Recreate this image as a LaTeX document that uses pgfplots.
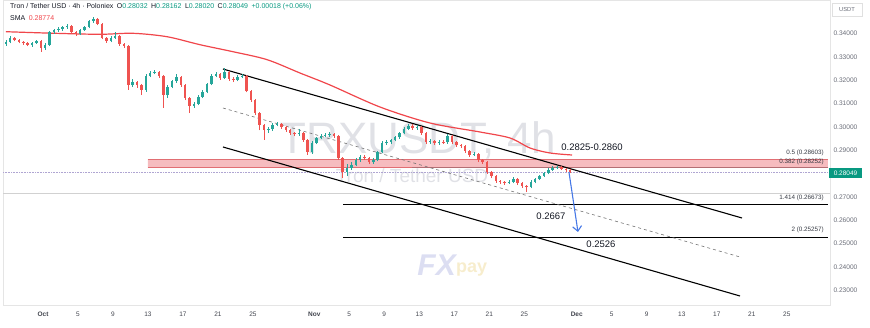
\documentclass[border=0pt]{standalone}
\usepackage{fontspec}
\setmainfont{Liberation Sans}
\usepackage{pgfplots}
\pgfplotsset{compat=1.18}
\usepackage{pgfplotstable}
\usetikzlibrary{arrows.meta}

\definecolor{upc}{RGB}{38,166,154}
\definecolor{dnc}{RGB}{239,83,80}
\definecolor{hdrgreen}{RGB}{8,153,129}
\definecolor{smac}{RGB}{240,70,75}
\definecolor{zonef}{RGB}{246,188,191}
\definecolor{zoned}{RGB}{225,110,115}
\definecolor{txt}{RGB}{19,23,34}
\definecolor{lbl}{RGB}{106,109,120}
\definecolor{wm}{RGB}{224,225,230}
\definecolor{arrowc}{RGB}{70,120,230}
\definecolor{fxc}{RGB}{220,222,242}
\definecolor{payc}{RGB}{247,237,205}

\pgfplotstableread{
t o h l c
-4.25 0.3355 0.3372 0.3348 0.3364
-3.75 0.3364 0.3388 0.3358 0.3381
-3.25 0.3381 0.3386 0.3366 0.3372
-2.75 0.3372 0.3378 0.3358 0.3364
-2.25 0.3364 0.3369 0.3352 0.3359
-1.75 0.3359 0.3363 0.3345 0.3351
-1.25 0.3351 0.3365 0.3344 0.3359
-0.75 0.3359 0.3374 0.3354 0.3368
-0.25 0.3368 0.3372 0.3321 0.3338
0.25 0.3338 0.3358 0.3330 0.3351
0.75 0.3351 0.3412 0.3346 0.3406
1.25 0.3406 0.3421 0.3398 0.3415
1.75 0.3415 0.3428 0.3408 0.3419
2.25 0.3419 0.3434 0.3412 0.3428
2.75 0.3428 0.3442 0.3421 0.3432
3.25 0.3432 0.3438 0.3398 0.3406
3.75 0.3406 0.3410 0.3390 0.3398
4.25 0.3398 0.3420 0.3393 0.3415
4.75 0.3415 0.3434 0.3410 0.3428
5.25 0.3428 0.3460 0.3422 0.3454
5.75 0.3454 0.3471 0.3447 0.3462
6.25 0.3462 0.3466 0.3435 0.3441
6.75 0.3441 0.3445 0.3375 0.3381
7.25 0.3381 0.3386 0.3360 0.3368
7.75 0.3368 0.3388 0.3362 0.3381
8.25 0.3381 0.3405 0.3376 0.3389
8.75 0.3389 0.3394 0.3348 0.3355
9.25 0.3355 0.3360 0.3338 0.3346
9.75 0.3346 0.3352 0.3160 0.3179
10.25 0.3179 0.3205 0.3170 0.3192
10.75 0.3192 0.3198 0.3168 0.3179
11.25 0.3179 0.3185 0.3136 0.3158
11.75 0.3158 0.3225 0.3150 0.3218
12.25 0.3218 0.3240 0.3212 0.3231
12.75 0.3231 0.3245 0.3225 0.3235
13.25 0.3235 0.3240 0.3210 0.3218
13.75 0.3218 0.3222 0.3081 0.3136
14.25 0.3136 0.3178 0.3125 0.3171
14.75 0.3171 0.3202 0.3165 0.3196
15.25 0.3196 0.3228 0.3190 0.3214
15.75 0.3214 0.3220 0.3172 0.3179
16.25 0.3179 0.3184 0.3115 0.3124
16.75 0.3124 0.3130 0.3059 0.3089
17.25 0.3089 0.3106 0.3082 0.3098
17.75 0.3098 0.3135 0.3092 0.3128
18.25 0.3128 0.3156 0.3122 0.3149
18.75 0.3149 0.3190 0.3143 0.3184
19.25 0.3184 0.3225 0.3178 0.3218
19.75 0.3218 0.3236 0.3212 0.3226
20.25 0.3226 0.3232 0.3202 0.3209
20.75 0.3209 0.3254 0.3204 0.3235
21.25 0.3235 0.3240 0.3198 0.3205
21.75 0.3205 0.3212 0.3192 0.3201
22.25 0.3201 0.3222 0.3195 0.3214
22.75 0.3214 0.3228 0.3208 0.3218
23.25 0.3218 0.3222 0.3148 0.3154
23.75 0.3154 0.3160 0.3108 0.3115
24.25 0.3115 0.3120 0.3050 0.3059
24.75 0.3059 0.3065 0.2985 0.3008
25.25 0.3008 0.3014 0.2944 0.2986
25.75 0.2986 0.3000 0.2975 0.2991
26.25 0.2991 0.3018 0.2984 0.3008
26.75 0.3008 0.3021 0.3002 0.3012
27.25 0.3012 0.3016 0.2992 0.2999
27.75 0.2999 0.3004 0.2978 0.2986
28.25 0.2986 0.2992 0.2966 0.2974
28.75 0.2974 0.2980 0.2960 0.2969
29.25 0.2969 0.2990 0.2962 0.2974
29.75 0.2974 0.2978 0.2936 0.2944
30.25 0.2944 0.2948 0.2880 0.2892
30.75 0.2892 0.2938 0.2885 0.2931
31.25 0.2931 0.2958 0.2925 0.2952
31.75 0.2952 0.2968 0.2946 0.2961
32.25 0.2961 0.2972 0.2955 0.2965
32.75 0.2965 0.2976 0.2958 0.2969
33.25 0.2969 0.2975 0.2954 0.2961
33.75 0.2961 0.2966 0.2858 0.2866
34.25 0.2866 0.2872 0.2781 0.2806
34.75 0.2806 0.2842 0.2790 0.2824
35.25 0.2824 0.2848 0.2815 0.2836
35.75 0.2836 0.2866 0.2830 0.2858
36.25 0.2858 0.2880 0.2850 0.2871
36.75 0.2871 0.2878 0.2858 0.2866
37.25 0.2866 0.2870 0.2840 0.2849
37.75 0.2849 0.2865 0.2842 0.2858
38.25 0.2858 0.2898 0.2852 0.2892
38.75 0.2892 0.2938 0.2886 0.2931
39.25 0.2931 0.2942 0.2924 0.2935
39.75 0.2935 0.2950 0.2928 0.2944
40.25 0.2944 0.2962 0.2938 0.2956
40.75 0.2956 0.2980 0.2950 0.2974
41.25 0.2974 0.2998 0.2968 0.2991
41.75 0.2991 0.3012 0.2985 0.3004
42.25 0.3004 0.3012 0.2988 0.2995
42.75 0.2995 0.3010 0.2988 0.2999
43.25 0.2999 0.3004 0.2966 0.2974
43.75 0.2974 0.2978 0.2928 0.2935
44.25 0.2935 0.2946 0.2926 0.2938
44.75 0.2938 0.2944 0.2922 0.2931
45.25 0.2931 0.2942 0.2924 0.2935
45.75 0.2935 0.2942 0.2926 0.2933
46.25 0.2933 0.2968 0.2928 0.2961
46.75 0.2961 0.2966 0.2928 0.2935
47.25 0.2935 0.2940 0.2914 0.2922
47.75 0.2922 0.2928 0.2910 0.2918
48.25 0.2918 0.2922 0.2888 0.2896
48.75 0.2896 0.2900 0.2872 0.2879
49.25 0.2879 0.2892 0.2874 0.2884
49.75 0.2884 0.2888 0.2850 0.2858
50.25 0.2858 0.2862 0.2840 0.2849
50.75 0.2849 0.2854 0.2798 0.2806
51.25 0.2806 0.2812 0.2780 0.2789
51.75 0.2789 0.2794 0.2760 0.2768
52.25 0.2768 0.2772 0.2756 0.2764
52.75 0.2764 0.2768 0.2752 0.2759
53.25 0.2759 0.2770 0.2754 0.2764
53.75 0.2764 0.2785 0.2758 0.2776
54.25 0.2776 0.2780 0.2752 0.2759
54.75 0.2759 0.2764 0.2738 0.2746
55.25 0.2746 0.2750 0.2721 0.2742
55.75 0.2742 0.2770 0.2736 0.2764
56.25 0.2764 0.2782 0.2758 0.2776
56.75 0.2776 0.2795 0.2770 0.2789
57.25 0.2789 0.2808 0.2784 0.2802
57.75 0.2802 0.2822 0.2796 0.2815
58.25 0.2815 0.2830 0.2810 0.2824
58.75 0.2824 0.2832 0.2818 0.2826
59.25 0.2826 0.2830 0.2814 0.2819
59.75 0.2819 0.2825 0.2808 0.2815
60.25 0.2815 0.2818 0.2802 0.2805
}\candles

\begin{document}
\begin{tikzpicture}[x=1pt,y=1pt]
% watermarks (drawn first, underneath)
\node[text=wm, font=\fontsize{44}{44}\selectfont] at (418,187) {TRXUSDT, 4h};
\node[text=wm, font=\fontsize{19}{19}\selectfont] at (412,151) {Tron / Tether USD};
\node[text=fxc, font=\fontsize{30}{30}\selectfont\bfseries\itshape, anchor=east, inner sep=0] at (456,62) {FX};
\node[text=payc, font=\fontsize{18}{18}\selectfont\bfseries, anchor=west, inner sep=0] at (456,57) {pay};

\begin{axis}[
  at={(3pt,22pt)}, anchor=south west, scale only axis,
  width=827pt, height=305pt,
  xmin=-4.571, xmax=89.943, ymin=0.22364, ymax=0.35436,
  clip=false,
  axis line style={draw=black!10},
  major tick length=0pt,
  scaled y ticks=false,
  yticklabel pos=right,
  ytick={0.23,0.24,0.25,0.26,0.27,0.29,0.30,0.31,0.32,0.33,0.34},
  /pgf/number format/.cd, fixed, fixed zerofill, precision=5, assume math mode=true,
  /pgfplots/.cd,
  yticklabel style={font=\fontsize{6.6}{7}\selectfont, text=lbl, anchor=west, xshift=0pt},
  xtick={0,4,8,12,16,20,24,31,35,39,43,47,51,55,61,65,69,73,77,81,85},
  xticklabels={\textbf{Oct},5,9,13,17,21,25,\textbf{Nov},5,9,13,17,21,25,\textbf{Dec},5,9,13,17,21,25},
  xticklabel style={font=\fontsize{6.5}{7}\selectfont, text=txt!80, yshift=-3pt},
  colormap={updown}{rgb255(0cm)=(239,83,80); rgb255(1cm)=(38,166,154)},
  point meta min=0, point meta max=1,
]
% horizontal guide lines
\addplot[color=black!18, line width=0.5pt] coordinates {(-4.571,0.27164) (89.943,0.27164)};
\addplot[color={rgb,255:red,175;green,165;blue,210}, densely dotted, line width=0.6pt] coordinates {(-4.571,0.28049) (89.943,0.28049)};
% red zone
\addplot[draw=none, fill=zonef] coordinates {(12,0.28252) (89.71,0.28252) (89.71,0.28603) (12,0.28603) (12,0.28252)};
\addplot[color=zoned, line width=0.6pt] coordinates {(12,0.28603) (89.71,0.28603)};
\addplot[color=zoned, line width=0.6pt] coordinates {(12,0.28252) (89.71,0.28252)};
\addplot[color={rgb,255:red,180;green,110;blue,115}, line width=0.8pt] coordinates {(42.17,0.28252) (89.71,0.28252)};
% fib extension lines
\addplot[color=black, line width=0.9pt] coordinates {(34.29,0.26673) (89.71,0.26673)};
\addplot[color=black, line width=0.9pt] coordinates {(34.29,0.25257) (89.71,0.25257)};
% SMA
\addplot[color=smac, line width=1.2pt, smooth] coordinates {
 (-4.23,0.34077) (1.37,0.34009) (6.51,0.33966) (10.29,0.34009) (14.17,0.33863)
 (17.94,0.33520) (21.71,0.33220) (25.6,0.32880) (29.37,0.32307) (32.8,0.31793)
 (38.51,0.30850) (44.23,0.30164) (49.94,0.29779) (53.37,0.29521) (55.66,0.29093)
 (57.94,0.28879) (60.46,0.28793)};
% channel
\addplot[color=black, line width=1.1pt] coordinates {(20.57,0.32479) (79.89,0.26093)};
\addplot[color=black, line width=1.1pt] coordinates {(20.57,0.29136) (79.66,0.22750)};
\addplot[color=black!55, dashed, line width=0.6pt] coordinates {(20.57,0.30807) (79.66,0.24421)};
% candles: wicks and bodies
\addplot[quiver={u=0, v=\thisrow{h}-\thisrow{l}, colored=mapped color}, line width=0.6pt,
  point meta={\thisrow{c}>\thisrow{o}}] table[x=t, y=l] {\candles};
\addplot[quiver={u=0, v=\thisrow{c}-\thisrow{o}, colored=mapped color}, line width=2.6pt,
  point meta={\thisrow{c}>\thisrow{o}}] table[x=t, y=o] {\candles};
% projection arrow
\addplot[color=arrowc, line width=1.1pt, -{Straight Barb[length=5pt,width=9pt]}] coordinates {(60.11,0.28064) (61.14,0.25493)};
\end{axis}

% header
\node[anchor=west, inner sep=0, font=\fontsize{7}{8}\selectfont, text=txt] at (10,320)
 {Tron / Tether USD · 4h · Poloniex\enspace O\textcolor{hdrgreen}{0.28032}\enspace H\textcolor{hdrgreen}{0.28162}\enspace L\textcolor{hdrgreen}{0.28020}\enspace C\textcolor{hdrgreen}{0.28049}\enspace \textcolor{hdrgreen}{+0.00018 (+0.06\%)}};
\node[anchor=west, inner sep=0, font=\fontsize{7}{8}\selectfont, text=txt] at (10,309)
 {SMA\enspace\textcolor{smac}{0.28774}};
% annotations
\node[font=\fontsize{9.5}{10}\selectfont, text=txt] at (592,180) {0.2825-0.2860};
\node[font=\fontsize{9.5}{10}\selectfont, text=txt] at (551,111) {0.2667};
\node[font=\fontsize{9.5}{10}\selectfont, text=txt] at (601,83) {0.2526};
\node[anchor=east, inner sep=0, font=\fontsize{6.3}{7}\selectfont, text=txt!85] at (824,174) {0.5 (0.28603)};
\node[anchor=east, inner sep=0, font=\fontsize{6.3}{7}\selectfont, text=txt!85] at (824,165) {0.382 (0.28252)};
\node[anchor=east, inner sep=0, font=\fontsize{6.3}{7}\selectfont, text=txt!85] at (824,129) {1.414 (0.26673)};
\node[anchor=east, inner sep=0, font=\fontsize{6.3}{7}\selectfont, text=txt!85] at (824,97) {2 (0.25257)};
% price scale boxes
\node[fill=hdrgreen, text=white, font=\fontsize{6.5}{7}\selectfont, minimum width=33pt, minimum height=10pt, inner sep=0] at (845.5,154) {0.28049};
\node[draw=black!12, fill=white, text=lbl, font=\fontsize{5.8}{6}\selectfont, minimum width=30pt, minimum height=13pt, inner sep=0] at (847,317) {USDT};

\pgfresetboundingbox
\path[use as bounding box] (0,0) rectangle (870,327);
\end{tikzpicture}
\end{document}
